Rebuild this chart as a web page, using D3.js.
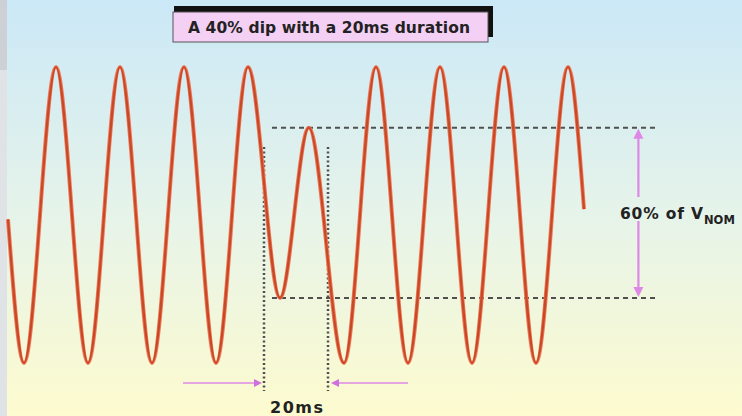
<!DOCTYPE html>
<html><head><meta charset="utf-8">
<script src="https://cdn.jsdelivr.net/npm/d3@7"></script>
<style>html,body{margin:0;padding:0;background:#fff;overflow:hidden}</style>
</head><body><div id="chart"></div>
<script>
// ---- data (time in ms, voltage as fraction of nominal peak) ----
const waveTimes  = [0, 5, 15, 25, 35, 45, 55, 65, 75, 85, 94, 105, 115, 125, 135, 145, 155, 165, 175, 180];
const waveValues = [-0.03, -1, 1, -1, 1, -1, 1, -1, 1, -0.56, 0.59, -1, 1, -1, 1, -1, 1, -1, 1, 0.04];
const dipStart = 80, dipEnd = 100;          // ms
const dipHigh = 0.59, dipLow = -0.56;       // dip peak / trough levels
const levelLineFrom = 82.5, levelLineTo = 203;
const levelArrowAt = 197;
const durArrowLeftFrom = 54.7, durArrowRightTo = 125;
const titleText = "A 40% dip with a 20ms duration";
const durationLabel = "20ms";
const levelLabel = "60% of V";
const levelSub = "NOM";

const W = 742, H = 416;
const svg = d3.select("#chart").append("svg").attr("width", W).attr("height", H);
const defs = svg.append("defs");
const g = defs.append("linearGradient").attr("id","bg").attr("x1",0).attr("y1",0).attr("x2",0).attr("y2",1);
g.append("stop").attr("offset","0").attr("stop-color","#cbe8f7");
g.append("stop").attr("offset","0.5").attr("stop-color","#e5f3ea");
g.append("stop").attr("offset","1").attr("stop-color","#fdfbcf");
svg.append("rect").attr("width",W).attr("height",H).attr("fill","url(#bg)");
svg.append("rect").attr("x",0).attr("y",0).attr("width",7).attr("height",H).attr("fill","#dfe3e5");
svg.append("rect").attr("x",0).attr("y",0).attr("width",7).attr("height",70).attr("fill","#cdd1d5");

const x = d3.scaleLinear().domain([0,180]).range([8,584]);
const y = d3.scaleLinear().domain([-1,1]).range([363,67]);

// dashed level lines
const dark = "#505050";
[dipHigh, dipLow].forEach(v => {
  svg.append("line").attr("x1",x(levelLineFrom)).attr("x2",x(levelLineTo))
    .attr("y1",y(v)).attr("y2",y(v))
    .attr("stroke",dark).attr("stroke-width",2).attr("stroke-dasharray","5,4");
});
// dotted duration lines
[dipStart, dipEnd].forEach(t => {
  svg.append("line").attr("x1",x(t)).attr("x2",x(t)).attr("y1",147).attr("y2",391)
    .attr("stroke",dark).attr("stroke-width",2.5).attr("stroke-dasharray","2,2.5");
});

// waveform
const pts = waveTimes.map((t,i)=>[t, waveValues[i]]);
const line = d3.line().x(d=>x(d[0])).y(d=>y(d[1])).curve(d3.curveMonotoneX);
svg.append("path").attr("d", line(pts)).attr("fill","none")
  .attr("stroke","#f07a55").attr("stroke-width",4).attr("stroke-linejoin","round");
svg.append("path").attr("d", line(pts)).attr("fill","none")
  .attr("stroke","#c8482a").attr("stroke-width",2.2).attr("stroke-linejoin","round");

// duration arrows
const pink = "#dd88e6";
const ay = 383;
svg.append("line").attr("x1",x(durArrowLeftFrom)).attr("x2",x(dipStart)-6).attr("y1",ay).attr("y2",ay)
  .attr("stroke",pink).attr("stroke-width",1.6);
svg.append("path").attr("d",`M${x(dipStart)-2},${ay} l-8,-4 l0,8 z`).attr("fill","#d070dc");
svg.append("line").attr("x1",x(durArrowRightTo)).attr("x2",x(dipEnd)+6).attr("y1",ay).attr("y2",ay)
  .attr("stroke",pink).attr("stroke-width",1.6);
svg.append("path").attr("d",`M${x(dipEnd)+3},${ay} l8,-4 l0,8 z`).attr("fill","#d070dc");

// level arrow
const lx = x(levelArrowAt);
svg.append("line").attr("x1",lx).attr("x2",lx).attr("y1",y(dipHigh)+6).attr("y2",197)
  .attr("stroke",pink).attr("stroke-width",2.2);
svg.append("line").attr("x1",lx).attr("x2",lx).attr("y1",221).attr("y2",y(dipLow)-6)
  .attr("stroke",pink).attr("stroke-width",2.2);
svg.append("path").attr("d",`M${lx},${y(dipHigh)+1} l-5,10 l10,0 z`).attr("fill",pink);
svg.append("path").attr("d",`M${lx},${y(dipLow)-1} l-5,-10 l10,0 z`).attr("fill",pink);

// labels
const font = "'DejaVu Sans', 'Liberation Sans', Arial, sans-serif";
svg.append("text").attr("x",620).attr("y",219).attr("font-family",font).attr("font-weight","bold")
  .attr("font-size",15.5).attr("fill","#222").attr("textLength",83).attr("lengthAdjust","spacing").text(levelLabel);
svg.append("text").attr("x",704).attr("y",224).attr("font-family",font).attr("font-weight","bold")
  .attr("font-size",11.5).attr("fill","#222").text(levelSub);
svg.append("text").attr("x",270).attr("y",413).attr("font-family",font).attr("font-weight","bold")
  .attr("font-size",16).attr("fill","#222").attr("textLength",53).attr("lengthAdjust","spacing").text(durationLabel);

// title box
svg.append("rect").attr("x",174).attr("y",6).attr("width",319).attr("height",31).attr("fill","#111");
svg.append("rect").attr("x",173).attr("y",12).attr("width",315).attr("height",30)
  .attr("fill","#f5d0f5").attr("stroke","#555").attr("stroke-width",1);
svg.append("text").attr("x",188).attr("y",33).attr("font-family",font).attr("font-weight","bold")
  .attr("font-size",15.5).attr("fill","#222").attr("textLength",282).attr("lengthAdjust","spacing").text(titleText);
</script></body></html>
